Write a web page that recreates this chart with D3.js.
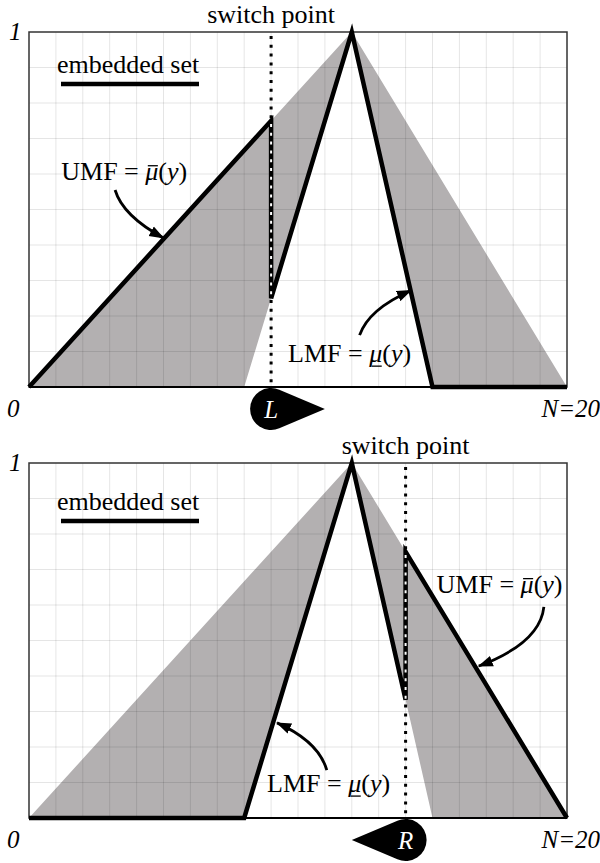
<!DOCTYPE html>
<html>
<head>
<meta charset="utf-8">
<script src="https://cdn.jsdelivr.net/npm/d3@7"></script>
<style>
  html, body { margin: 0; padding: 0; background: #fff; }
  text { font-family: "Liberation Serif", "Times New Roman", serif; }
</style>
</head>
<body>
<svg id="chart" width="600" height="863"></svg>
<script>
// Interval type-2 fuzzy set on the domain 0..N
const N = 20;
const umfX = [0, 12, 20];          // upper membership function breakpoints
const umfY = [0, 1, 0];
const lmfX = [8, 12, 15];          // lower membership function breakpoints
const lmfY = [0, 1, 0];

// Embedded set that switches from UMF to LMF at L
const switchL = 9;
const embLX = [0, 9, 9, 12, 15, 20];
const embLY = [0, 0.75, 0.25, 1, 0, 0];

// Embedded set that switches from LMF to UMF at R
const switchR = 14;
const embRX = [0, 8, 12, 14, 14, 20];
const embRY = [0, 0, 1, 0.333, 0.75, 0];

const xTicks = d3.range(0, N + 1);
const yTicks = d3.range(0, 11).map(i => i / 10);

const svg = d3.select("#chart");
const x = d3.scaleLinear().domain([0, N]).range([29, 567]);

// arrowhead for the callout arrows
svg.append("defs").append("marker")
  .attr("id", "ah")
  .attr("viewBox", "0 -6 15 12")
  .attr("markerUnits", "userSpaceOnUse")
  .attr("markerWidth", 15).attr("markerHeight", 12)
  .attr("refX", 14).attr("refY", 0)
  .attr("orient", "auto")
  .append("path").attr("d", "M0,-5.5L15,0L0,5.5Z").attr("fill", "#000");

const panels = [
  {
    top: 32, bottom: 387, sw: switchL, ex: embLX, ey: embLY,
    segLo: 0.25, segHi: 0.75, mark: "L", tipAt: 11, embDy: 0,
    umfLabel: [1.2, 0.583], umfArrow: [[3.2, 0.555], [3.49, 0.482], [5.0, 0.42]],
    lmfLabel: [9.63, 0.07], lmfArrow: [[12.29, 0.146], [12.62, 0.219], [14.2, 0.272]]
  },
  {
    top: 463, bottom: 818, sw: switchR, ex: embRX, ey: embRY,
    segLo: 0.333, segHi: 0.75, mark: "R", tipAt: 12, embDy: 6,
    umfLabel: [15.15, 0.634], umfArrow: [[19.14, 0.595], [19.0, 0.493], [16.72, 0.428]],
    lmfLabel: [8.85, 0.073], lmfArrow: [[11.07, 0.135], [10.76, 0.216], [9.22, 0.268]]
  }
];

// writes "<name> = mu(y)" and marks the mu with a bar above or below it
function membershipLabel(g, name, px, py, bar) {
  const t = g.append("text").attr("x", px).attr("y", py).attr("font-size", 26);
  t.append("tspan").text(name + " = ");
  t.append("tspan").attr("font-style", "italic").text("\u03BC");
  t.append("tspan").text("(");
  t.append("tspan").attr("font-style", "italic").text("y");
  t.append("tspan").text(")");
  const box = t.node().getExtentOfChar(name.length + 3);
  const by = bar === "over" ? box.y + box.height * 0.3 : py + 4;
  g.append("line")
    .attr("x1", box.x + 2.5).attr("x2", box.x + box.width - 0.5)
    .attr("y1", by).attr("y2", by)
    .attr("stroke", "#000").attr("stroke-width", 1.3);
}

panels.forEach((p, i) => {
  const y = d3.scaleLinear().domain([0, 1]).range([p.bottom, p.top]);
  const g = svg.append("g");
  const line = d3.line().x(d => x(d[0])).y(d => y(d[1]));

  // footprint of uncertainty: between UMF and LMF
  const fou = d3.zip(umfX, umfY).concat(d3.zip(lmfX, lmfY).reverse());
  g.append("path").attr("d", line(fou) + "Z").attr("fill", "#b3b0b1");

  // grid
  g.selectAll(".gx").data(xTicks.slice(1, -1)).join("line")
    .attr("x1", d => x(d)).attr("x2", d => x(d))
    .attr("y1", y(0)).attr("y2", y(1))
    .attr("stroke", "#000").attr("stroke-opacity", 0.1).attr("stroke-width", 1);
  g.selectAll(".gy").data(yTicks.slice(1, -1)).join("line")
    .attr("y1", d => y(d)).attr("y2", d => y(d))
    .attr("x1", x(0)).attr("x2", x(N))
    .attr("stroke", "#000").attr("stroke-opacity", 0.1).attr("stroke-width", 1);

  // frame
  g.append("rect")
    .attr("x", x(0)).attr("y", y(1))
    .attr("width", x(N) - x(0)).attr("height", y(0) - y(1))
    .attr("fill", "none").attr("stroke", "#333").attr("stroke-width", 1.5);
  g.append("line")
    .attr("x1", x(0)).attr("x2", x(N)).attr("y1", y(0)).attr("y2", y(0))
    .attr("stroke", "#000").attr("stroke-width", 2);

  // switch point guide
  const dash = "3 5.8";
  g.append("line")
    .attr("x1", x(p.sw)).attr("x2", x(p.sw))
    .attr("y1", y(1) + 4).attr("y2", y(0))
    .attr("stroke", "#000").attr("stroke-width", 3)
    .attr("stroke-dasharray", dash);

  // embedded set
  g.append("path")
    .attr("d", line(d3.zip(p.ex, p.ey)))
    .attr("fill", "none").attr("stroke", "#000")
    .attr("stroke-width", 4.5).attr("stroke-linejoin", "miter")
    .attr("stroke-miterlimit", 6);

  // guide shows through the vertical jump as white dots
  const clipId = "seg" + i;
  g.append("clipPath").attr("id", clipId).append("rect")
    .attr("x", x(p.sw) - 5).attr("width", 10)
    .attr("y", y(p.segHi)).attr("height", y(p.segLo) - y(p.segHi));
  g.append("line")
    .attr("x1", x(p.sw)).attr("x2", x(p.sw))
    .attr("y1", y(1) + 4).attr("y2", y(0))
    .attr("stroke", "#fff").attr("stroke-width", 2)
    .attr("stroke-dasharray", dash)
    .attr("clip-path", `url(#${clipId})`);

  // callout arrows
  const arrow = pts => {
    const path = d3.path();
    path.moveTo(x(pts[0][0]), y(pts[0][1]));
    path.quadraticCurveTo(x(pts[1][0]), y(pts[1][1]), x(pts[2][0]), y(pts[2][1]));
    return path.toString();
  };
  [p.umfArrow, p.lmfArrow].forEach(a => {
    g.append("path").attr("d", arrow(a))
      .attr("fill", "none").attr("stroke", "#000").attr("stroke-width", 2.8)
      .attr("marker-end", "url(#ah)");
  });

  // labels
  const fs = 26;
  g.append("text").attr("x", x(p.sw)).attr("y", p.top - 9)
    .attr("text-anchor", "middle").attr("font-size", fs).text("switch point");

  g.append("text").attr("x", 57).attr("y", p.top + 41 + p.embDy)
    .attr("font-size", fs).text("embedded set");
  g.append("line").attr("x1", 61).attr("x2", 199)
    .attr("y1", p.top + 52 + p.embDy).attr("y2", p.top + 52 + p.embDy)
    .attr("stroke", "#000").attr("stroke-width", 4.5);

  membershipLabel(g, "UMF", x(p.umfLabel[0]), y(p.umfLabel[1]), "over");
  membershipLabel(g, "LMF", x(p.lmfLabel[0]), y(p.lmfLabel[1]), "under");

  // axis end labels
  g.append("text").attr("x", 9).attr("y", p.top + 8)
    .attr("font-size", 25).attr("font-style", "italic").text("1");
  g.append("text").attr("x", 7).attr("y", p.bottom + 30)
    .attr("font-size", 25).attr("font-style", "italic").text("0");
  g.append("text").attr("x", 600).attr("y", p.bottom + 30)
    .attr("text-anchor", "end").attr("font-size", 25).attr("font-style", "italic")
    .text("N=20");

  // switch point marker: teardrop pointing in the sweep direction
  const r = 21;
  const cx = x(p.sw), cy = y(0) + r + 1;
  const tx = x(p.tipAt), ty = cy;
  const phi = Math.atan2(ty - cy, tx - cx);
  const d = Math.hypot(tx - cx, ty - cy);
  const th = Math.acos(r / d);
  const drop = d3.path();
  drop.moveTo(tx, ty);
  drop.lineTo(cx + r * Math.cos(phi + th), cy + r * Math.sin(phi + th));
  drop.arc(cx, cy, r, phi + th, phi - th + 2 * Math.PI, false);
  drop.closePath();
  g.append("path").attr("d", drop.toString()).attr("fill", "#000");
  g.append("text").attr("x", cx).attr("y", cy + 9)
    .attr("text-anchor", "middle").attr("font-size", 25)
    .attr("font-style", "italic").attr("fill", "#fff").text(p.mark);
});
</script>
</body>
</html>
